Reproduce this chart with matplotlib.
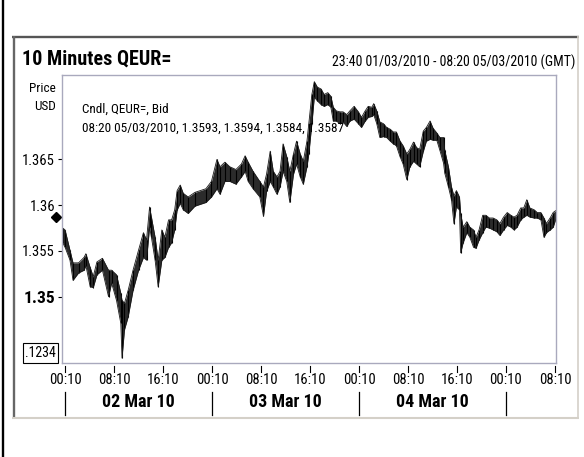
import matplotlib
matplotlib.use("Agg")
import matplotlib.pyplot as plt
from matplotlib import font_manager
from matplotlib.patches import Rectangle
from matplotlib.transforms import blended_transform_factory

# the original uses a narrow Arial-like face; pick whatever narrow font exists
font_names = {f.name for f in font_manager.fontManager.ttflist}
narrow_choices = ["Liberation Sans Narrow", "Arial Narrow", "Roboto Condensed",
                  "Open Sans Condensed", "Noto Sans Condensed", "DejaVu Sans Condensed"]
narrow = next((n for n in narrow_choices if n in font_names), None)
size_scale = 1.0
if narrow is None:
    condensed = [f.name for f in font_manager.fontManager.ttflist
                 if f.stretch in ("condensed", "semi-condensed")]
    for pref in ["Liberation Sans", "Noto Sans", "DejaVu Sans", "Open Sans", "Roboto"]:
        if pref in condensed:
            narrow = pref
            plt.rcParams["font.stretch"] = "condensed"
            break
if narrow is None:
    narrow = "Liberation Sans"
    size_scale = 0.86
plt.rcParams["font.family"] = [narrow, "DejaVu Sans"]


def fs(size):
    return size * size_scale


# 10-minute candles read off the chart, sampled about every half hour
# hours counted from 23:40 01/03/2010
hours = [0.1, 0.5, 1.3, 1.8, 2.7, 3.6, 3.9, 4.6, 5.1, 5.7,
         6.6, 7.6, 8.1, 8.9, 9.6, 9.8, 10.2, 10.8, 11.6, 12.5,
         13.3, 13.8, 14.3, 14.6, 15.2, 15.7, 16.3, 16.8, 17.4, 17.9,
         18.4, 18.8, 19.3, 19.8, 20.6, 21.7, 23.5, 24.4, 25.3, 25.8,
         26.6, 27.4, 28.4, 29.3, 29.9, 30.4, 31.2, 32.3, 32.9, 33.4,
         34.0, 34.5, 35.1, 35.6, 36.1, 36.7, 37.2, 37.8, 38.3, 38.9,
         39.4, 40.0, 40.3, 40.8, 41.2, 41.7, 42.3, 42.8, 43.4, 43.9,
         44.3, 44.8, 45.4, 45.9, 46.5, 47.0, 47.7, 48.4, 48.9, 49.5,
         50.0, 50.6, 50.9, 51.4, 51.9, 52.5, 53.0, 53.6, 54.1, 54.6,
         55.2, 55.7, 56.3, 56.8, 57.4, 57.9, 58.4, 59.0, 59.5, 60.1,
         60.6, 61.2, 61.7, 62.3, 62.5, 63.1, 63.6, 64.0, 64.4, 64.9,
         65.1, 65.5, 66.1, 66.6, 67.2, 67.6, 68.1, 68.7, 69.2, 69.8,
         70.4, 71.0, 71.5, 72.1, 72.7, 73.3, 73.8, 74.3, 74.9, 75.4,
         75.9, 76.4, 77.1, 77.6, 78.2, 78.7, 79.1, 79.7, 80.2, 80.6]

highs = [1.3575, 1.3573, 1.3551, 1.3537, 1.3537, 1.3543, 1.3547, 1.3532, 1.3522, 1.3538,
         1.3542, 1.3529, 1.3529, 1.3524, 1.3504, 1.3496, 1.3493, 1.3507, 1.3529, 1.3551,
         1.3570, 1.3562, 1.3598, 1.3587, 1.3565, 1.3540, 1.3573, 1.3565, 1.3584, 1.3584,
         1.3595, 1.3616, 1.3622, 1.3613, 1.3609, 1.3614, 1.3618, 1.3626, 1.3650, 1.3642,
         1.3647, 1.3642, 1.3639, 1.3645, 1.3654, 1.3647, 1.3637, 1.3626, 1.3620, 1.3634,
         1.3659, 1.3637, 1.3631, 1.3637, 1.3667, 1.3653, 1.3637, 1.3656, 1.3670, 1.3656,
         1.3648, 1.3670, 1.3689, 1.3721, 1.3735, 1.3729, 1.3727, 1.3721, 1.3723, 1.3719,
         1.3707, 1.3703, 1.3702, 1.3702, 1.3699, 1.3703, 1.3708, 1.3702, 1.3696, 1.3703,
         1.3708, 1.3707, 1.3711, 1.3703, 1.3691, 1.3689, 1.3685, 1.3683, 1.3680, 1.3680,
         1.3670, 1.3665, 1.3656, 1.3661, 1.3669, 1.3663, 1.3661, 1.3681, 1.3685, 1.3692,
         1.3684, 1.3679, 1.3674, 1.3674, 1.3660, 1.3642, 1.3620, 1.3610, 1.3616, 1.3609,
         1.3591, 1.3576, 1.3582, 1.3576, 1.3573, 1.3565, 1.3573, 1.3589, 1.3589, 1.3586,
         1.3586, 1.3584, 1.3580, 1.3587, 1.3592, 1.3589, 1.3587, 1.3589, 1.3597, 1.3597,
         1.3606, 1.3597, 1.3595, 1.3592, 1.3592, 1.3586, 1.3580, 1.3586, 1.3592, 1.3594]

lows = [1.3559, 1.3554, 1.3540, 1.3518, 1.3526, 1.3529, 1.3534, 1.3511, 1.3510, 1.3524,
        1.3529, 1.3500, 1.3515, 1.3496, 1.3471, 1.3433, 1.3464, 1.3478, 1.3507, 1.3529,
        1.3543, 1.3540, 1.3576, 1.3565, 1.3540, 1.3511, 1.3540, 1.3543, 1.3554, 1.3559,
        1.3573, 1.3595, 1.3602, 1.3595, 1.3591, 1.3599, 1.3603, 1.3609, 1.3618, 1.3612,
        1.3626, 1.3626, 1.3623, 1.3631, 1.3637, 1.3626, 1.3618, 1.3609, 1.3588, 1.3615,
        1.3626, 1.3620, 1.3612, 1.3620, 1.3637, 1.3626, 1.3603, 1.3634, 1.3645, 1.3631,
        1.3623, 1.3642, 1.3656, 1.3689, 1.3718, 1.3714, 1.3710, 1.3708, 1.3710, 1.3707,
        1.3692, 1.3692, 1.3689, 1.3691, 1.3686, 1.3692, 1.3694, 1.3689, 1.3685, 1.3692,
        1.3696, 1.3697, 1.3699, 1.3689, 1.3674, 1.3675, 1.3674, 1.3670, 1.3667, 1.3665,
        1.3653, 1.3645, 1.3628, 1.3642, 1.3648, 1.3645, 1.3642, 1.3659, 1.3670, 1.3672,
        1.3671, 1.3671, 1.3660, 1.3646, 1.3635, 1.3620, 1.3606, 1.3580, 1.3598, 1.3595,
        1.3548, 1.3559, 1.3570, 1.3565, 1.3554, 1.3553, 1.3562, 1.3570, 1.3576, 1.3575,
        1.3573, 1.3571, 1.3567, 1.3573, 1.3578, 1.3576, 1.3573, 1.3576, 1.3584, 1.3587,
        1.3589, 1.3587, 1.3586, 1.3586, 1.3584, 1.3565, 1.3570, 1.3573, 1.3576, 1.3584]

last_time = "08:20 05/03/2010"
last_ohlc = [1.3593, 1.3594, 1.3584, 1.3587]
total_hours = 484 / 6  # 484 ten-minute bars

tick_hours = [0.5, 8.5, 16.5, 24.5, 32.5, 40.5, 48.5, 56.5, 64.5, 72.5, 80.5]
tick_labels = ["00:10", "08:10", "16:10", "00:10", "08:10", "16:10",
               "00:10", "08:10", "16:10", "00:10", "08:10"]
day_edges = [0.5, 24.5, 48.5, 72.5]
day_labels = ["02 Mar 10", "03 Mar 10", "04 Mar 10"]
y_ticks = [1.35, 1.355, 1.36, 1.365]
y_labels = ["1.35", "1.355", "1.36", "1.365"]

W, H = 584, 457
fig = plt.figure(figsize=(W / 100, H / 100), dpi=100)
fig.patch.set_facecolor("white")

# background layer in pixel coordinates for the panel frame and headers
bg = fig.add_axes([0, 0, 1, 1], zorder=0)
bg.set_xlim(0, W)
bg.set_ylim(H, 0)
bg.axis("off")

bg.plot([3, 3], [0, H], color="black", lw=1.7, solid_capstyle="butt")
bg.plot([12, 579], [36.5, 36.5], color="#555555", lw=1.7, solid_capstyle="butt")
bg.plot([13.5, 13.5], [36, 418], color="#666666", lw=1.7, solid_capstyle="butt")
bg.plot([12, 579], [417.5, 417.5], color="#d4d0c8", lw=1.5, solid_capstyle="butt")
bg.plot([578, 578], [36, 418], color="#d4d0c8", lw=1.2, solid_capstyle="butt")

bg.text(22, 59, "10 Minutes QEUR=", fontsize=fs(14.5), fontweight="bold",
        ha="left", va="center")
bg.text(575, 62, "23:40 01/03/2010 - 08:20 05/03/2010 (GMT)", fontsize=fs(10),
        ha="right", va="center")
bg.text(56, 88, "Price", fontsize=fs(9.5), ha="right", va="center")
bg.text(56, 107, "USD", fontsize=fs(9.5), ha="right", va="center")

bg.add_patch(Rectangle((23, 343), 35, 20, fill=False, edgecolor="black", lw=0.8))
bg.text(24.5, 353, ".1234", fontsize=fs(10), ha="left", va="center")

# price chart
ax = fig.add_axes([62 / W, (H - 363) / H, 494 / W, 288.5 / H], zorder=1)
ax.set_facecolor("none")
ax.fill_between(hours, lows, highs, color="#2b2b2b", lw=0)
ax.vlines(hours, lows, highs, color="black", lw=0.8)
ax.plot(hours, highs, color="#1a1a1a", lw=0.6)
ax.plot(hours, lows, color="#1a1a1a", lw=0.6)

ax.set_xlim(0, total_hours)
ax.set_ylim(1.34276, 1.37428)

for side in ["top", "right", "bottom", "left"]:
    ax.spines[side].set_color("#a9a9bd")
    ax.spines[side].set_linewidth(1)

ax.set_yticks(y_ticks)
ax.set_yticklabels(y_labels, fontsize=fs(10.5))
ax.tick_params(axis="y", direction="out", length=3, width=0.8, pad=2, color="black")
for lbl in ax.get_yticklabels():
    if lbl.get_text() == "1.35":
        lbl.set_fontsize(fs(12.5))
        lbl.set_fontweight("bold")

ax.set_xticks(tick_hours)
ax.set_xticklabels(tick_labels, fontsize=fs(10.5))
ax.tick_params(axis="x", length=0, pad=7)

tr = blended_transform_factory(ax.transData, ax.transAxes)
for h in tick_hours:
    ax.plot([h, h], [-0.011, -0.031], color="black", lw=0.8, transform=tr, clip_on=False)
for h in day_edges:
    ax.plot([h, h], [-0.1, -0.18], color="black", lw=0.9, transform=tr, clip_on=False)
for i, name in enumerate(day_labels):
    mid = (day_edges[i] + day_edges[i + 1]) / 2
    ax.text(mid, -0.135, name, transform=tr, fontsize=fs(13), fontweight="bold",
            ha="center", va="center")

# last close marker on the price axis
tr_y = blended_transform_factory(ax.transAxes, ax.transData)
ax.plot([-0.012], [last_ohlc[3]], marker="D", markersize=5.5, color="black",
        transform=tr_y, clip_on=False)

ax.text(0.04, 0.88, "Cndl, QEUR=, Bid", transform=ax.transAxes, fontsize=fs(9.5),
        ha="left", va="center")
info = last_time + ", " + ", ".join(f"{v:.4f}" for v in last_ohlc)
ax.text(0.04, 0.815, info, transform=ax.transAxes, fontsize=fs(9.5), ha="left", va="center")

fig.savefig("out.png", dpi=100)
